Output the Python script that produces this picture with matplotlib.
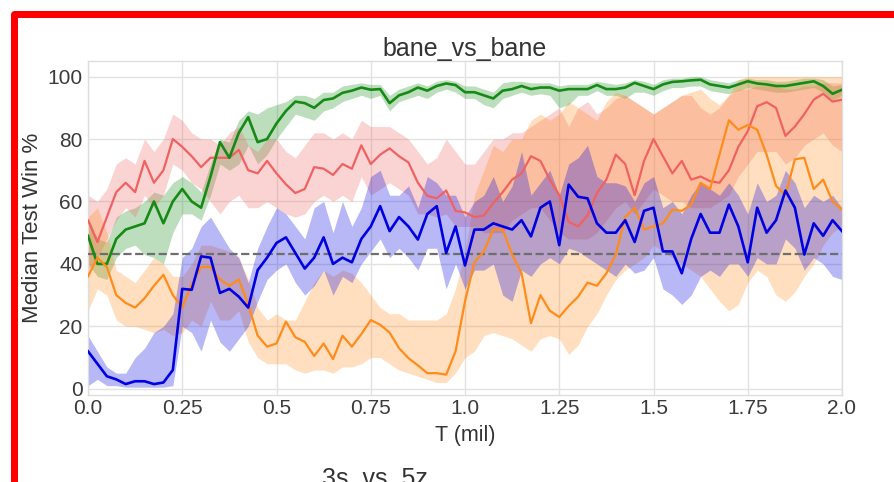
import numpy as np
import matplotlib
matplotlib.use("Agg")
import matplotlib.pyplot as plt
from matplotlib.patches import Rectangle

plt.rcParams['font.family'] = ['Liberation Sans', 'DejaVu Sans']

# ---------------- data ----------------
t = np.linspace(0.0, 2.0, 81)  # T (mil), step 0.025

green = [49, 40, 40, 48, 51, 52, 53, 60, 53, 60,
         64, 60, 58, 68, 79, 74, 82, 87, 79, 80,
         85, 89, 92, 91.5, 90, 92.5, 93, 94.8, 95.5, 96.5,
         95.8, 96, 91.5, 94, 95, 96.5, 95.5, 97, 97.8, 97.3,
         95, 95, 94, 93, 95.5, 96, 97, 96, 96.5, 96.5,
         95.5, 96, 96, 96, 97.3, 96, 96, 96.5, 98, 97,
         96, 97.5, 98.3, 98.5, 98.8, 99, 97.5, 97, 96.5, 97.5,
         98.5, 97.8, 97.5, 97, 97, 97.5, 98, 98.5, 97, 94.5,
         95.8]
green_lo = [40, 36, 35, 42, 45, 46, 43, 42, 40, 50,
            56, 56, 54, 62, 72, 70, 72, 78, 72, 75,
            80, 84, 88, 87, 86, 89, 90, 92, 93, 94,
            93, 94, 89, 92, 93, 94, 93, 95, 96, 95,
            93, 93, 91, 90, 93, 94, 95, 94, 94.5, 94,
            90, 91, 94, 94, 95.5, 94, 94, 93, 95, 95,
            94, 95.5, 96.5, 96.5, 97, 97, 95.5, 95, 94.5, 95.5,
            96.5, 96, 95.5, 95, 95, 95.5, 96, 96.5, 95, 92.5,
            94]
green_hi = [55, 48, 47, 55, 57, 58, 60, 63, 62, 66,
            68, 66, 63, 72, 80, 79, 86, 89, 88, 90,
            91, 92, 94, 94, 93, 95, 95, 97, 97.5, 98,
            97.5, 97.5, 94, 96, 97, 98, 97, 98.5, 99, 98.5,
            97, 97, 96, 95, 98, 98.5, 98.5, 98, 98, 98,
            97, 97.5, 97.5, 97.5, 98.5, 98, 97.5, 98, 99, 98.5,
            97.5, 99, 99.5, 99.5, 100, 100, 99, 98.5, 98, 99,
            99.5, 99, 99, 98.5, 98.5, 99, 99.5, 99.5, 99, 97,
            97.5]

red = [54, 47, 55, 63, 66, 63, 73, 66, 70, 80,
       77.5, 74.5, 71, 74, 74, 74, 76.5, 70, 69, 73,
       69, 65.5, 62.7, 64, 71, 70.5, 68.5, 72, 70.5, 78,
       72, 75, 77, 74.5, 72.5, 66, 61.8, 61, 63.5, 57,
       56.5, 55, 55.5, 59.5, 63, 67, 69, 74.5, 73, 67,
       62, 53.5, 52, 55.5, 62.7, 67, 75, 72, 62, 73,
       80, 74.5, 69, 73, 67, 68, 66.5, 66, 70, 77.5,
       82.5, 90.5, 91.8, 90, 81, 84, 88, 92.6, 94.5, 92,
       92.6]
red_lo = [38, 42, 48, 54, 58, 55, 62, 58, 62, 72,
          70, 66, 64, 60, 56, 60, 62, 58, 58, 60,
          58, 56, 55, 56, 60, 62, 60, 62, 60, 68,
          62, 64, 66, 64, 62, 56, 56, 55, 56, 52,
          52, 52, 50, 50, 50, 54, 56, 58, 58, 54,
          50, 48, 48, 48, 50, 54, 58, 60, 56, 60,
          64, 62, 60, 60, 58, 58, 58, 60, 62, 68,
          72, 76, 76, 76, 72, 74, 78, 80, 82, 78,
          76]
red_hi = [62, 60, 64, 72, 74, 72, 80, 76, 80, 88,
          86, 82, 80, 80, 78, 82, 84, 78, 76, 80,
          80, 76, 74, 78, 82, 82, 80, 82, 80, 86,
          84, 84, 84, 82, 80, 76, 72, 74, 80, 76,
          72, 72, 76, 80, 80, 82, 82, 84, 86, 88,
          90, 84, 90, 92, 88, 90, 93, 94, 92, 90,
          88, 90, 92, 94, 94, 90, 88, 90, 94, 96,
          96, 97, 97, 97, 96, 96, 97, 97, 98, 98,
          98]

blue = [12, 8, 4, 3, 1.5, 2.4, 2.4, 1.5, 2, 6,
        32, 31.7, 42.4, 42, 30.7, 32, 29.5, 26, 38, 42,
        46.7, 48.5, 43.5, 38.5, 42, 48.5, 40, 42, 40.5, 48,
        52, 58.5, 50.5, 55, 52, 47.8, 56, 58.5, 43.5, 52,
        39.5, 51, 51, 53, 52, 51, 54, 48.8, 58, 60,
        46, 65.4, 61.5, 61, 53, 50, 50, 54, 47, 57,
        58, 44, 44, 37, 48, 56, 50, 50, 59, 52,
        40.5, 58, 50, 54, 63.5, 58, 43, 53, 49, 54,
        50.5]
blue_lo = [1, 3, 1, 1, 0.5, 0.5, 0.5, 0.5, 0.5, 1,
           20, 18, 12, 22, 15, 12, 16, 20, 28, 35,
           38, 40, 34, 30, 33, 38, 30, 36, 34, 40,
           44, 48, 42, 45, 42, 38, 45, 45, 32, 40,
           32, 38, 38, 40, 30, 28, 38, 36, 40, 42,
           40, 45, 44, 42, 40, 38, 36, 40, 37, 38,
           42, 32, 30, 27, 30, 36, 38, 36, 40, 40,
           36, 42, 40, 40, 48, 45, 38, 42, 40, 36,
           35]
blue_hi = [17, 12, 7, 5, 5, 10, 13, 18, 20, 24,
           42, 45, 52, 55, 50, 45, 42, 34, 45, 52,
           58, 56, 52, 48, 58, 60, 50, 60, 52, 58,
           68, 70, 62, 62, 65, 58, 68, 66, 62, 62,
           55, 60, 62, 68, 60, 65, 76, 62, 66, 70,
           62, 72, 74, 78, 68, 66, 66, 65, 60, 66,
           68, 58, 60, 56, 62, 66, 64, 62, 66, 62,
           56, 66, 60, 62, 70, 66, 58, 62, 60, 62,
           58]

orange = [36, 42, 39, 30, 27.5, 26, 29, 33, 36.5, 30,
          26, 33.5, 39, 39, 35, 33, 35, 27, 17, 13.5,
          14.5, 21.5, 16.5, 15, 10.5, 14.5, 9.5, 17, 13.5, 17.5,
          22, 20.5, 18, 13, 9.8, 7.5, 5, 5, 4.5, 12,
          28, 40.5, 44, 51, 51, 43, 37, 21, 30, 25,
          23, 26.5, 29.5, 34, 33, 37, 43, 55, 58, 51,
          52, 53, 57.4, 57, 59, 66, 64, 75, 86, 83,
          84.5, 83, 75, 65, 62, 73.5, 74, 64, 67, 60,
          57.4]
orange_lo = [25, 32, 30, 22, 20, 20, 19, 18, 19, 17,
             18, 22, 20, 28, 22, 22, 25, 15, 10, 8,
             8, 8, 6, 5, 6, 6, 5, 7, 7, 8,
             10, 10, 8, 6, 5, 4, 3, 2, 2, 5,
             10, 12, 17, 18, 17, 16, 14, 12, 16, 17,
             16, 11, 14, 20, 24, 30, 35, 38, 40, 42,
             46, 44, 42, 40, 38, 36, 32, 28, 25, 27,
             34, 38, 36, 30, 28, 31, 36, 40, 46, 50,
             52]
orange_hi = [55, 58, 50, 38, 36, 34, 38, 42, 40, 36,
             36, 40, 46, 46, 45, 44, 42, 35, 26, 22,
             24, 22, 22, 28, 34, 38, 36, 38, 37, 34,
             30, 26, 24, 24, 22, 22, 22, 22, 24, 32,
             44, 62, 70, 78, 76, 80, 80, 86, 88, 86,
             88, 92, 90, 88, 86, 92, 95, 94, 92, 90,
             88, 90, 92, 94, 95, 96, 93, 91, 94, 99,
             100, 100, 100, 100, 100, 100, 100, 100, 100, 100,
             100]

baseline = 43.3

title = 'bane_vs_bane'
next_title = '3s_vs_5z'
xticks = [0.0, 0.25, 0.5, 0.75, 1.0, 1.25, 1.5, 1.75, 2.0]
xticklabels = ['0.0', '0.25', '0.5', '0.75', '1.0', '1.25', '1.5', '1.75', '2.0']
yticks = [0, 20, 40, 60, 80, 100]

# ---------------- figure ----------------
W, H = 894, 482
fig = plt.figure(figsize=(W / 100, H / 100), dpi=100)
fig.patch.set_facecolor('white')

ax = fig.add_axes([88 / W, 1 - 395 / H, 754 / W, 334 / H])
ax.set_facecolor('white')

series = [
    (green_lo, green_hi, green, '#158a15', 1.9),
    (red_lo, red_hi, red, '#f06262', 1.6),
    (orange_lo, orange_hi, orange, '#ff8c1a', 1.6),
    (blue_lo, blue_hi, blue, '#0000e0', 1.9),
]
for lo, hi, _, c, _lw in series:
    ax.fill_between(t, lo, hi, color=c, alpha=0.28, lw=0, zorder=2)

ax.axhline(baseline, color='#6e6e6e', ls='--', lw=1.6, zorder=3)

for _, _, y, c, lw in [series[1], series[0], series[2], series[3]]:
    ax.plot(t, y, color=c, lw=lw, zorder=4)

ax.set_xlim(0, 2.0)
ax.set_ylim(-2, 105)
ax.set_xticks(xticks)
ax.set_xticklabels(xticklabels)
ax.set_yticks(yticks)
ax.grid(True, color='#e2e2e2', lw=1.0, zorder=0)
ax.set_axisbelow(True)
for s in ax.spines.values():
    s.set_color('#dedede')
    s.set_linewidth(1.0)
ax.tick_params(length=0, labelsize=15, colors='#3a3a3a', pad=4)
ax.tick_params(axis='x', pad=3)

ax.set_title(title, fontsize=18, color='#333333', pad=2)
ax.set_xlabel('T (mil)', fontsize=15.5, color='#333333', labelpad=5)
ax.set_ylabel('Median Test Win %', fontsize=16, color='#333333', labelpad=3)

fig.text(375 / W, 1 - 467 / H, next_title, ha='center', va='top',
         fontsize=18, color='#333333')

# red screenshot frame
frame = Rectangle((14.5 / W, 1 - 485 / H), (1000 - 14.5) / W, (485 - 13.5) / H,
                  fill=False, edgecolor='#ff0000', lw=5.04, joinstyle='round',
                  transform=fig.transFigure, clip_on=False, zorder=10)
fig.add_artist(frame)

fig.savefig('out.png', dpi=100)
